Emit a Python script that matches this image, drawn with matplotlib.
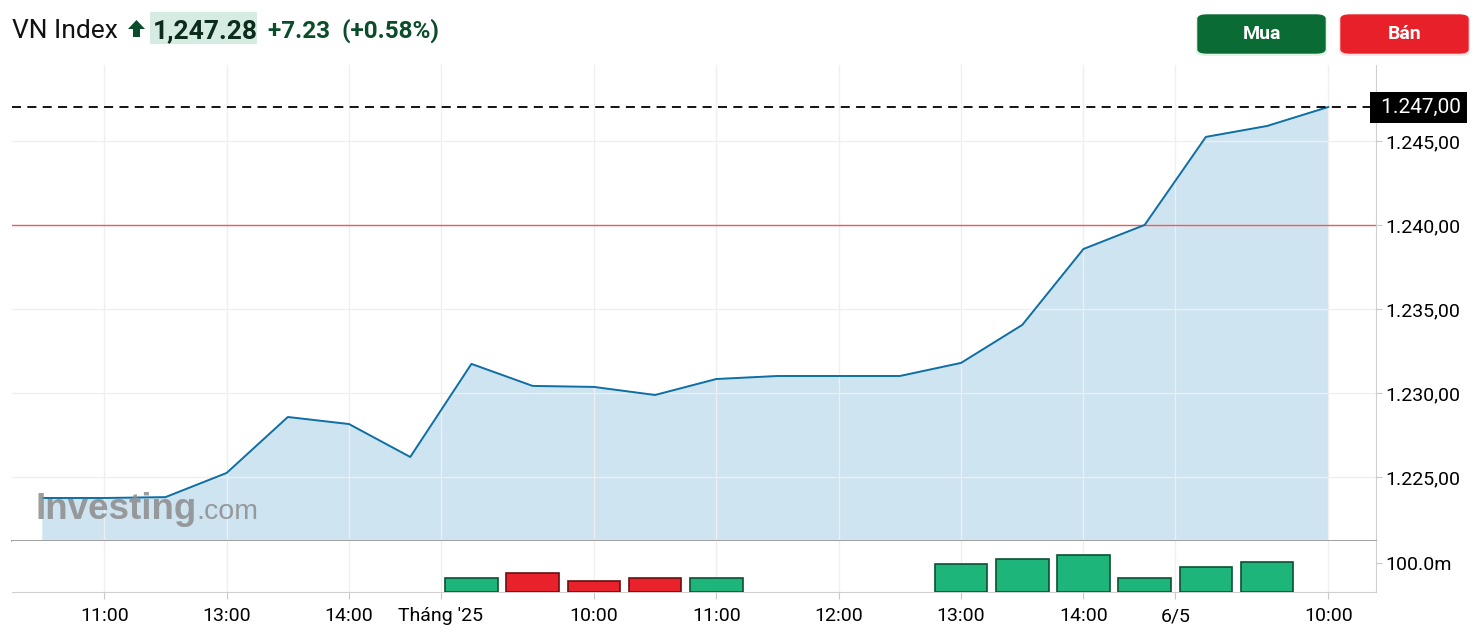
import numpy as np
import matplotlib.pyplot as plt
from matplotlib.patches import FancyBboxPatch, Rectangle, Polygon
from matplotlib.ticker import FuncFormatter

plt.rcParams['font.family'] = ['Roboto', 'DejaVu Sans']

# index values, one point per half hour
prices = [1223.75, 1223.75, 1223.8, 1225.24, 1228.57, 1228.15, 1226.19, 1231.73,
          1230.42, 1230.36, 1229.88, 1230.83, 1231.01, 1231.01, 1231.01, 1231.79,
          1234.05, 1238.57, 1240.0, 1245.24, 1245.89, 1247.02]
prev_close = 1240.0
last_price = 1247.0

# volume bars (millions), position in the series and up/down
vol_idx = [7, 8, 9, 10, 11, 15, 16, 17, 18, 19, 20]
vol_values = [48, 66, 38, 48, 48, 97, 114, 128, 48, 86, 103]
vol_up = [True, False, False, False, True, True, True, True, True, True, True]

tick_pos = [1, 3, 5, 6.5, 9, 11, 13, 15, 17, 18.5, 21]
tick_labels = ['11:00', '13:00', '14:00', "Tháng '25", '10:00', '11:00', '12:00',
               '13:00', '14:00', '6/5', '10:00']
y_ticks = [1225, 1230, 1235, 1240, 1245]

W, H = 1476, 638
fig = plt.figure(figsize=(W / 100, H / 100), dpi=100)

def px(x0, y0, x1, y1):
    return [x0 / W, 1 - y1 / H, (x1 - x0) / W, (y1 - y0) / H]

def vn_fmt(v, p=None):
    return f'{v:,.2f}'.replace(',', 'X').replace('.', ',').replace('X', '.')

ax = fig.add_axes(px(12, 65, 1376, 541))
axv = fig.add_axes(px(12, 541, 1376, 592), sharex=ax)

x = np.arange(len(prices))
line_col = '#0f6fa5'
ax.fill_between(x, prices, 1200, color='#cfe4f1', zorder=1)
ax.plot(x, prices, color=line_col, lw=1.4, zorder=3)
ax.axhline(prev_close, color='#f05a5a', lw=1.0, zorder=2)
ax.axhline(last_price, color='black', lw=1.3, ls=(0, (5, 3.5)), zorder=4)

ax.set_xlim(-0.507, 21.78)
ax.set_ylim(1221.19, 1249.52)
ax.set_yticks(y_ticks)
ax.yaxis.tick_right()
ax.yaxis.set_major_formatter(FuncFormatter(vn_fmt))
ax.tick_params(axis='y', length=4, color='#c8c8c8', labelsize=14, pad=3)
ax.tick_params(axis='x', length=0, labelbottom=False)
ax.set_xticks(tick_pos)
ax.grid(True, color='#efefef', lw=0.9, zorder=0)
for s in ['top', 'left']:
    ax.spines[s].set_visible(False)
ax.spines['right'].set_color('#d0d0d0')
ax.spines['bottom'].set_color('#9a9a9a')
ax.spines['bottom'].set_linewidth(1.3)

# price label box at the right axis
ax.text(1.0, last_price, ' ' + vn_fmt(last_price), color='white', fontsize=15,
        va='center', ha='left', clip_on=False, zorder=10,
        transform=ax.get_yaxis_transform(),
        bbox=dict(boxstyle='square,pad=0.3', fc='black', ec='none'))

# volume panel
colors = ['#1db57a' if u else '#e8212b' for u in vol_up]
edges = ['#0c4f33' if u else '#6a1010' for u in vol_up]
axv.bar(vol_idx, vol_values, width=0.86, color=colors, edgecolor=edges, lw=1.2, zorder=3)
axv.set_ylim(0, 176)
axv.set_yticks([100])
axv.set_yticklabels(['100.0m'])
axv.yaxis.tick_right()
axv.tick_params(axis='y', length=4, color='#c8c8c8', labelsize=14, pad=3)
axv.set_xticks(tick_pos)
axv.set_xticklabels(tick_labels)
axv.tick_params(axis='x', length=5, color='#c8c8c8', labelsize=14, pad=6)
axv.grid(True, axis='x', color='#efefef', lw=0.9, zorder=0)
for s in ['top', 'left']:
    axv.spines[s].set_visible(False)
axv.spines['right'].set_color('#d0d0d0')
axv.spines['bottom'].set_color('#d0d0d0')

# watermark
fig.text(36 / W, 1 - 519 / H, 'Investing', fontsize=26.5, fontweight='bold',
         color='#8c8c8c', alpha=0.85, family='Liberation Sans')
fig.text(196 / W, 1 - 519 / H, '.com', fontsize=20.5, color='#8c8c8c', alpha=0.85,
         family='Liberation Sans')

# header
fig.text(12 / W, 1 - 38 / H, 'VN Index', fontsize=19, color='#111111')
arrow = [(128, 29), (136.5, 20), (145, 29), (140, 29), (140, 37), (133, 37), (133, 29)]
fig.patches.append(Polygon([(a / W, 1 - b / H) for a, b in arrow], closed=True,
                           transform=fig.transFigure, fc='#0b4d2a', ec='none'))
fig.patches.append(Rectangle((150 / W, 1 - 44 / H), 107 / W, 32 / H,
                             transform=fig.transFigure, fc='#d6ece2', ec='none'))
fig.text(153 / W, 1 - 38 / H, '1,247.28', fontsize=19, fontweight='bold', color='#0d2b1c')
fig.text(268 / W, 1 - 38 / H, '+7.23  (+0.58%)', fontsize=17.5, fontweight='bold',
         color='#0b4d2a')

for (x0, label, fc, glow) in [(1198, 'Mua', '#0b6b35', '#e3f2e7'),
                              (1341, 'Bán', '#e8202a', '#fce4e4')]:
    shadow = FancyBboxPatch(((x0 - 2) / W, 1 - 56 / H), 131 / W, 41 / H,
                            boxstyle='round,pad=0,rounding_size=0.007',
                            transform=fig.transFigure, fc=glow, ec='none')
    fig.patches.append(shadow)
    box = FancyBboxPatch((x0 / W, 1 - 53 / H), 127 / W, 38 / H,
                         boxstyle='round,pad=0,rounding_size=0.006',
                         transform=fig.transFigure, fc=fc, ec=fc, lw=1)
    fig.patches.append(box)
    fig.text((x0 + 63.5) / W, 1 - 34 / H, label, color='white', fontsize=14,
             fontweight='bold', ha='center', va='center')

fig.savefig('out.png', dpi=100)
